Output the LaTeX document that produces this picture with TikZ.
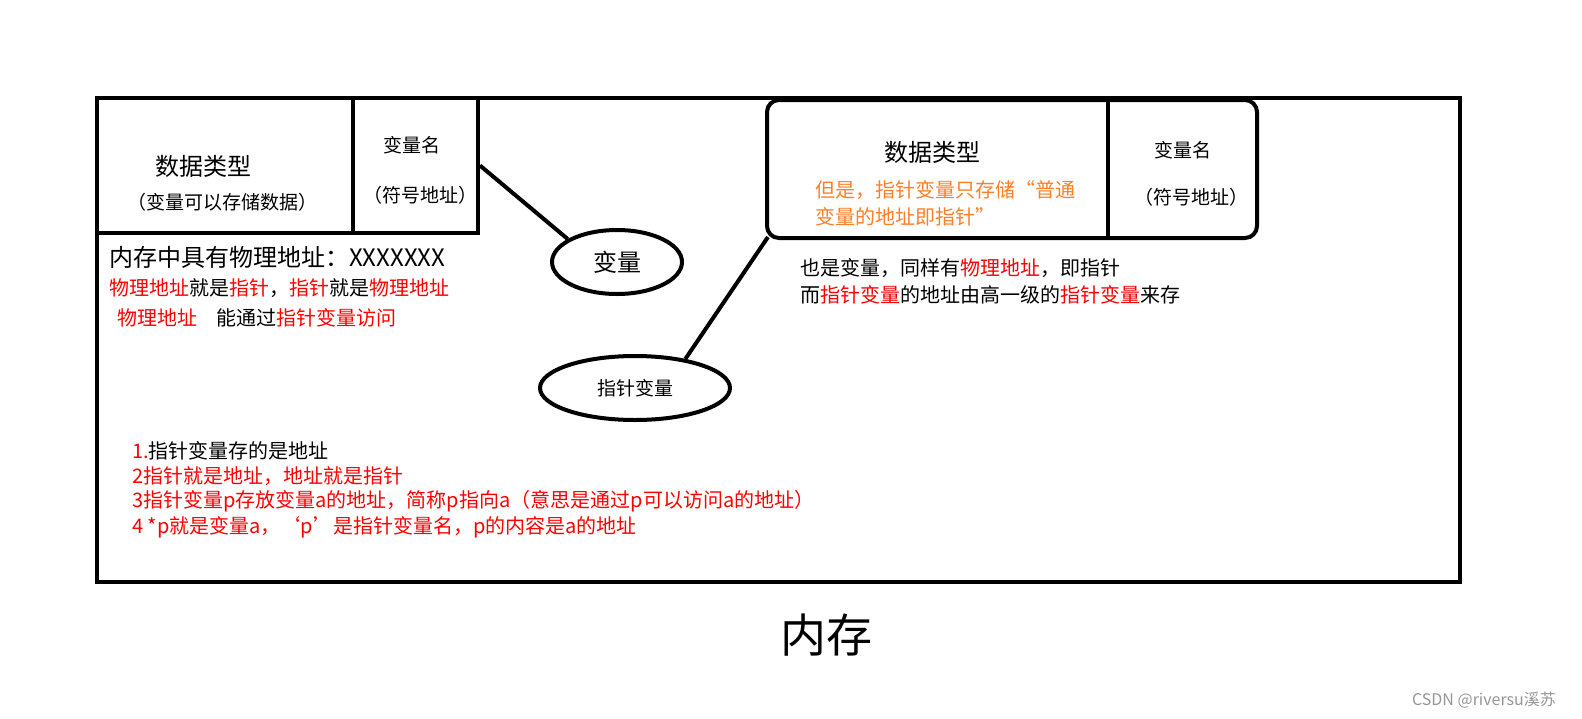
\documentclass[tikz,border=0pt]{standalone}
\usepackage{fontspec}
\usetikzlibrary{shapes.geometric}
\setmainfont{Noto Sans CJK SC}
\definecolor{ptrorange}{RGB}{255,127,39}
\definecolor{markgray}{RGB}{150,150,150}

\begin{document}
\begin{tikzpicture}[x=1pt,y=-1pt]
\tikzstyle{every node}+=[inner sep=0pt]
\tikzstyle{frame}=[draw, black, line width=4pt]
\tikzstyle{bigtxt}=[font=\fontsize{24pt}{28pt}\selectfont]
\tikzstyle{midtxt}=[font=\fontsize{20pt}{24pt}\selectfont]
\tikzstyle{smalltxt}=[font=\fontsize{19pt}{23pt}\selectfont]
\useasboundingbox (0,0) rectangle (1582,718);
% memory frame
\draw [frame] (97,98) rectangle (1460,582);
% ordinary variable
\node [frame, minimum width=256pt, minimum height=135pt] (typebox) at (225,165.5) {};
\node [frame, minimum width=125pt, minimum height=135pt] (namebox) at (415.5,165.5) {};
\node [bigtxt] (typeL) at (203,166) {数据类型};
\node [smalltxt] (typeLsub) at (222,202) {（变量可以存储数据）};
\node [smalltxt] (nameL) at (412,145) {变量名};
\node [smalltxt] (nameLsub) at (420,195) {（符号地址）};
% pointer variable
\node [frame, rounded corners=12pt, minimum width=490pt, minimum height=138pt] (ptrbox) at (1012,169) {};
\draw [frame] (1108,100) -- (1108,238);
\node [bigtxt] (typeR) at (932,152) {数据类型};
\node [midtxt, anchor=west, text=ptrorange] (typeRsub1) at (815,190) {但是，指针变量只存储“普通};
\node [midtxt, anchor=west, text=ptrorange] (typeRsub2) at (815,217) {变量的地址即指针”};
\node [smalltxt] (nameR) at (1183,150) {变量名};
\node [smalltxt] (nameRsub) at (1191,197) {（符号地址）};
% ellipses
\node [frame, ellipse, minimum width=130pt, minimum height=64pt, bigtxt] (var) at (617,262) {\raisebox{-4pt}{变量}};
\node [frame, ellipse, minimum width=190pt, minimum height=64pt, smalltxt] (ptr) at (635,388) {指针变量};
\draw [frame] (namebox.east) -- (var.155);
\draw [frame] ([shift={(3,-3)}]ptrbox.south west) -- (ptr.30);
% notes
\node [bigtxt, anchor=west] (addr) at (109,257) {内存中具有物理地址：XXXXXXX};
\node [midtxt, anchor=west] (note1) at (109,288) {\textcolor{red}{物理地址}就是\textcolor{red}{指针}，\textcolor{red}{指针}就是\textcolor{red}{物理地址}};
\node [midtxt, anchor=west] (note2) at (117,318) {\textcolor{red}{物理地址}\hspace{19pt}能通过\textcolor{red}{指针变量访问}};
\node [midtxt, anchor=west] (note3) at (800,268) {也是变量，同样有\textcolor{red}{物理地址}，即指针};
\node [midtxt, anchor=west] (note4) at (800,295) {而\textcolor{red}{指针变量}的地址由高一级的\textcolor{red}{指针变量}来存};
\node [midtxt, anchor=west] (list1) at (132,451) {\textcolor{red}{1.}指针变量存的是地址};
\node [midtxt, anchor=west, text=red] (list2) at (132,476) {2指针就是地址，地址就是指针};
\node [midtxt, anchor=west, text=red] (list3) at (132,501) {3指针变量p存放变量a的地址，简称p指向a（意思是通过p可以访问a的地址）};
\node [midtxt, anchor=west, text=red] (list4) at (132,527) {4 *p就是变量a，‘p’是指针变量名，p的内容是a的地址};
% caption
\node [font=\fontsize{46pt}{52pt}\selectfont] (caption) at (826,635) {内存};
\node [font=\fontsize{16pt}{20pt}\selectfont, text=markgray] (mark) at (1484,700) {CSDN @riversu溪苏};
\end{tikzpicture}
\end{document}
